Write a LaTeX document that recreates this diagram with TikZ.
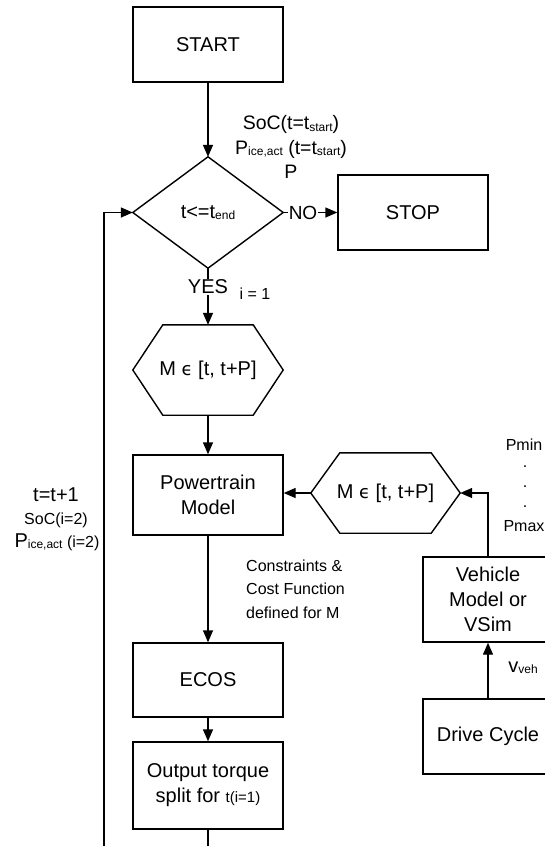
\documentclass[tikz,border=0pt]{standalone}
\usepackage{fontspec}
\setmainfont{Liberation Sans}
\newfontfamily\djfont{DejaVu Sans}
\usetikzlibrary{arrows.meta}
\newcommand{\lo}[1]{\raisebox{-1.5pt}{\fontsize{12}{12}\selectfont #1}}
\newcommand{\elem}{{\djfont\fontsize{18}{18}\selectfont ϵ}}
\begin{document}
\begin{tikzpicture}[x=1pt,y=-1pt,
  ln/.style={line width=1.4pt},
  arr/.style={line width=1.4pt,-{Triangle[length=12pt,width=10pt]}},
  box/.style={draw,line width=1.4pt,minimum width=150pt,minimum height=75pt,inner sep=0pt,align=center,font=\fontsize{20}{25}\selectfont},
  ghost/.style={minimum width=150pt,minimum height=75pt,inner sep=0pt,align=center,font=\fontsize{20}{25}\selectfont},
  lbl/.style={inner sep=1pt,font=\fontsize{20}{24}\selectfont},
  small/.style={inner sep=1pt,font=\fontsize{16}{20}\selectfont}]
\useasboundingbox (0,0) rectangle (545,846);
\clip (0,0) rectangle (545,846);
\fill[white] (0,0) rectangle (545,846);
% nodes
\node[box] (start) at (208,44.5) {START};
\node[ghost,minimum height=111pt] (dia) at (208,212.5) {t<=t\lo{end}};
\draw[ln] (dia.west) -- (dia.north) -- (dia.east) -- (dia.south) -- cycle;
\node[box] (stop) at (413,212.5) {STOP};
\node[ghost,minimum height=90pt] (hexa) at (208,370) {M \elem{} [t, t+P]};
\draw[ln] (hexa.west) -- ([xshift=30pt]hexa.north west) -- ([xshift=-30pt]hexa.north east) -- (hexa.east) -- ([xshift=-30pt]hexa.south east) -- ([xshift=30pt]hexa.south west) -- cycle;
\node[box,minimum height=80pt] (pt) at (208,495) {Powertrain\\Model};
\node[ghost,minimum width=149pt,minimum height=80pt] (hexb) at (385.5,493) {M \elem{} [t, t+P]};
\draw[ln] (hexb.west) -- ([xshift=29pt]hexb.north west) -- ([xshift=-29pt]hexb.north east) -- (hexb.east) -- ([xshift=-29pt]hexb.south east) -- ([xshift=29pt]hexb.south west) -- cycle;
\node[box,minimum height=74pt] (ecos) at (208,680) {ECOS};
\node[box,minimum height=87pt] (out) at (208,785.5) {Output torque\\split for {\fontsize{15}{15}\selectfont t(i=1)}};
\node[box,minimum width=130pt,minimum height=85pt] (veh) at (488,599.5) {Vehicle\\Model or\\VSim};
\node[box,minimum width=130pt] (drive) at (488,736.5) {Drive Cycle};
% labels
\node[lbl,font=\fontsize{19}{24}\selectfont] (no) at (303,212.5) {NO};
\node[lbl] (yes) at (208,287) {YES};
\node[inner sep=0pt,font=\fontsize{16}{16}\selectfont] (ione) at (255,294) {i = 1};
\node[lbl,align=center,font=\fontsize{19.5}{24.5}\selectfont] (init) at (291,147) {SoC(t=t\lo{start})\\P\lo{ice,act} (t=t\lo{start})\\P};
\node[small,align=left,anchor=west,font=\fontsize{16}{23.5}\selectfont] (cons) at (245,589) {Constraints \&\\Cost Function\\defined for M};
\node[lbl] (tinc) at (56,495) {t=t+1};
\node[small] (socb) at (56,520) {SoC(i=2)};
\node[small] (piceb) at (57,542) {{\fontsize{20}{20}\selectfont P}\lo{ice,act} (i=2)};
\node[inner sep=0pt,font=\fontsize{16}{16}\selectfont] (pmin) at (524,445) {Pmin};
\node[inner sep=0pt,font=\fontsize{16}{16}\selectfont] (d1) at (525,467) {.};
\node[inner sep=0pt,font=\fontsize{16}{16}\selectfont] (d2) at (525,487) {.};
\node[inner sep=0pt,font=\fontsize{16}{16}\selectfont] (d3) at (525,507) {.};
\node[inner sep=0pt,font=\fontsize{16}{16}\selectfont] (pmax) at (524,526) {Pmax};
\node[lbl] (vveh) at (523,668) {v\lo{veh}};
% connectors
\draw[arr] (start.south) -- (dia.north);
\draw[ln] (dia.east) -- (no.west);
\draw[arr] (no.east) -- (stop.west);
\draw[ln] (dia.south) -- (yes.north);
\draw[arr] (yes.south) -- (hexa.north);
\draw[arr] (hexa.south) -- (pt.north);
\draw[arr] (hexb.west) -- (hexb.west -| pt.east);
\draw[arr] (veh.north) |- (hexb.east);
\draw[arr] (drive.north) -- (veh.south);
\draw[arr] (pt.south) -- (ecos.north);
\draw[arr] (ecos.south) -- (out.north);
\coordinate (lb) at (104,880);
\draw[arr] (out.south) |- (lb) |- (dia.west);
\end{tikzpicture}
\end{document}
